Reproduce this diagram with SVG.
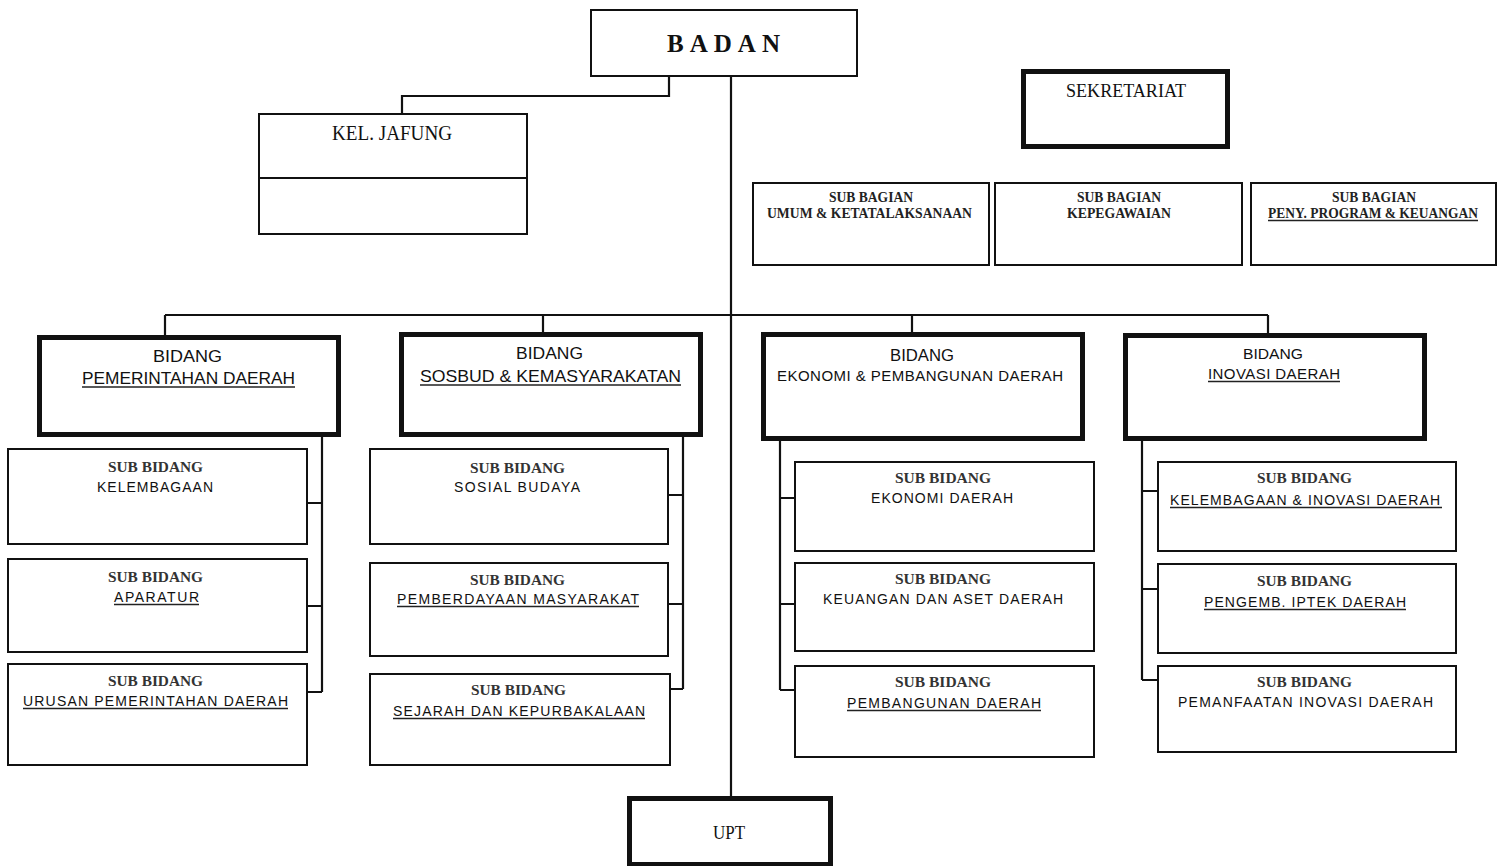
<svg xmlns="http://www.w3.org/2000/svg" width="1502" height="866" viewBox="0 0 1502 866">
<style>
.thin{fill:#fff;stroke:#111;stroke-width:2}
.thick{fill:#fff;stroke:#111;stroke-width:5}
.ln{fill:none;stroke:#111;stroke-width:2.2}
.ul{stroke:#222;stroke-width:1.3}
.sf{font-family:"Liberation Serif","Times New Roman",serif;fill:#111}
.ss{font-family:"Liberation Sans",Arial,sans-serif;fill:#111}
.sb{font-family:"Liberation Serif","Times New Roman",serif;font-size:15px;font-weight:bold;fill:#333}
.sl{font-family:"Liberation Sans",Arial,sans-serif;font-size:14px;fill:#111}
.hd{font-family:"Liberation Sans",Arial,sans-serif;font-size:17px;fill:#111}
.sg{font-family:"Liberation Serif","Times New Roman",serif;font-size:14px;font-weight:bold;fill:#222}
</style>
<rect width="1502" height="866" fill="#fff"/>
<g id="connectors">
<path class="ln" d="M669,77 V96 H402 V113"/>
<path class="ln" d="M731,77 V797"/>
<path class="ln" d="M165,315 H1268 M165,315 V336 M543,315 V333 M912,315 V333 M1268,315 V334"/>
<path class="ln" d="M322,437 V692 M307,503 H322 M307,606 H322 M307,692 H322"/>
<path class="ln" d="M683,437 V689 M668,495 H683 M668,604 H683 M669,689 H683"/>
<path class="ln" d="M780,440 V690 M780,498 H795 M780,604 H795 M780,690 H795"/>
<path class="ln" d="M1142,440 V680 M1142,491 H1158 M1142,589 H1158 M1142,680 H1158"/>
</g>
<g id="badan">
<rect class="thin" x="591" y="10" width="266" height="66"/>
<text class="sf" x="667" y="52" font-size="25" font-weight="bold" textLength="113" lengthAdjust="spacing">BADAN</text>
</g>
<g id="kel-jafung">
<rect class="thin" x="259" y="114" width="268" height="120"/>
<line class="ln" x1="259" y1="178" x2="527" y2="178"/>
<text class="sf" x="332" y="140" font-size="20" textLength="120" lengthAdjust="spacingAndGlyphs">KEL. JAFUNG</text>
</g>
<g id="sekretariat">
<rect class="thick" x="1023.5" y="71.5" width="204" height="75"/>
<text class="sf" x="1066" y="97" font-size="18" textLength="120" lengthAdjust="spacingAndGlyphs">SEKRETARIAT</text>
</g>
<g id="subbag-umum">
<rect class="thin" x="753" y="183" width="236" height="82"/>
<text class="sg" x="829" y="202" textLength="84" lengthAdjust="spacingAndGlyphs">SUB BAGIAN</text>
<text class="sg" x="767" y="218" textLength="205" lengthAdjust="spacingAndGlyphs">UMUM &amp; KETATALAKSANAAN</text>
</g>
<g id="subbag-kepegawaian">
<rect class="thin" x="995" y="183" width="247" height="82"/>
<text class="sg" x="1077" y="202" textLength="84" lengthAdjust="spacingAndGlyphs">SUB BAGIAN</text>
<text class="sg" x="1067" y="218" textLength="104" lengthAdjust="spacingAndGlyphs">KEPEGAWAIAN</text>
</g>
<g id="subbag-program">
<rect class="thin" x="1251" y="183" width="245" height="82"/>
<text class="sg" x="1332" y="202" textLength="84" lengthAdjust="spacingAndGlyphs">SUB BAGIAN</text>
<text class="sg" x="1268" y="218" textLength="210" lengthAdjust="spacingAndGlyphs">PENY. PROGRAM &amp; KEUANGAN</text>
<line class="ul" x1="1268" y1="220.5" x2="1478" y2="220.5"/>
</g>
<g id="bidang-pemerintahan">
<rect class="thick" x="39.5" y="337.5" width="299" height="97"/>
<text class="hd" x="153" y="362" textLength="69" lengthAdjust="spacingAndGlyphs">BIDANG</text>
<text class="hd" x="82" y="384" textLength="213" lengthAdjust="spacingAndGlyphs">PEMERINTAHAN DAERAH</text>
<line class="ul" x1="82" y1="387" x2="295" y2="387"/>
</g>
<g id="bidang-sosbud">
<rect class="thick" x="401.5" y="334.5" width="299" height="100"/>
<text class="hd" x="516" y="359" textLength="67" lengthAdjust="spacingAndGlyphs">BIDANG</text>
<text class="hd" x="420" y="382" font-size="18" textLength="261" lengthAdjust="spacingAndGlyphs">SOSBUD &amp; KEMASYARAKATAN</text>
<line class="ul" x1="420" y1="385" x2="681" y2="385"/>
</g>
<g id="bidang-ekonomi">
<rect class="thick" x="763.5" y="334.5" width="319" height="104"/>
<text class="hd" x="890" y="361" textLength="64" lengthAdjust="spacingAndGlyphs">BIDANG</text>
<text class="ss" x="777" y="381" font-size="15" textLength="286" lengthAdjust="spacing">EKONOMI &amp; PEMBANGUNAN DAERAH</text>
</g>
<g id="bidang-inovasi">
<rect class="thick" x="1125.5" y="335.5" width="299" height="103"/>
<text class="ss" x="1243" y="359" font-size="15.5" textLength="60" lengthAdjust="spacingAndGlyphs">BIDANG</text>
<text class="ss" x="1208" y="379" font-size="15" textLength="132" lengthAdjust="spacing">INOVASI DAERAH</text>
<line class="ul" x1="1208" y1="381.5" x2="1340" y2="381.5"/>
</g>
<g id="sb-kelembagaan">
<rect class="thin" x="8" y="449" width="299" height="95"/>
<text class="sb" x="108" y="472" textLength="95" lengthAdjust="spacingAndGlyphs">SUB BIDANG</text>
<text class="sl" x="97" y="492" textLength="116" lengthAdjust="spacing">KELEMBAGAAN</text>
</g>
<g id="sb-aparatur">
<rect class="thin" x="8" y="559" width="299" height="93"/>
<text class="sb" x="108" y="582" textLength="95" lengthAdjust="spacingAndGlyphs">SUB BIDANG</text>
<text class="sl" x="114" y="602" textLength="85" lengthAdjust="spacing">APARATUR</text>
<line class="ul" x1="114" y1="604.5" x2="199" y2="604.5"/>
</g>
<g id="sb-urusan">
<rect class="thin" x="8" y="664" width="299" height="101"/>
<text class="sb" x="108" y="686" textLength="95" lengthAdjust="spacingAndGlyphs">SUB BIDANG</text>
<text class="sl" x="23" y="706" textLength="265" lengthAdjust="spacing">URUSAN PEMERINTAHAN DAERAH</text>
<line class="ul" x1="23" y1="708.5" x2="288" y2="708.5"/>
</g>
<g id="sb-sosial">
<rect class="thin" x="370" y="449" width="298" height="95"/>
<text class="sb" x="470" y="473" textLength="95" lengthAdjust="spacingAndGlyphs">SUB BIDANG</text>
<text class="sl" x="454" y="492" textLength="126" lengthAdjust="spacing">SOSIAL BUDAYA</text>
</g>
<g id="sb-pemberdayaan">
<rect class="thin" x="370" y="563" width="298" height="93"/>
<text class="sb" x="470" y="585" textLength="95" lengthAdjust="spacingAndGlyphs">SUB BIDANG</text>
<text class="sl" x="397" y="604" textLength="242" lengthAdjust="spacing">PEMBERDAYAAN MASYARAKAT</text>
<line class="ul" x1="397" y1="606.5" x2="639" y2="606.5"/>
</g>
<g id="sb-sejarah">
<rect class="thin" x="370" y="674" width="300" height="91"/>
<text class="sb" x="471" y="695" textLength="95" lengthAdjust="spacingAndGlyphs">SUB BIDANG</text>
<text class="sl" x="393" y="716" textLength="252" lengthAdjust="spacing">SEJARAH DAN KEPURBAKALAAN</text>
<line class="ul" x1="393" y1="718.5" x2="645" y2="718.5"/>
</g>
<g id="sb-ekonomi">
<rect class="thin" x="795" y="462" width="299" height="89"/>
<text class="sb" x="895" y="483" textLength="96" lengthAdjust="spacingAndGlyphs">SUB BIDANG</text>
<text class="sl" x="871" y="503" textLength="142" lengthAdjust="spacing">EKONOMI DAERAH</text>
</g>
<g id="sb-keuangan">
<rect class="thin" x="795" y="563" width="299" height="88"/>
<text class="sb" x="895" y="584" textLength="96" lengthAdjust="spacingAndGlyphs">SUB BIDANG</text>
<text class="sl" x="823" y="604" textLength="240" lengthAdjust="spacing">KEUANGAN DAN ASET DAERAH</text>
</g>
<g id="sb-pembangunan">
<rect class="thin" x="795" y="666" width="299" height="91"/>
<text class="sb" x="895" y="687" textLength="96" lengthAdjust="spacingAndGlyphs">SUB BIDANG</text>
<text class="sl" x="847" y="708" textLength="194" lengthAdjust="spacing">PEMBANGUNAN DAERAH</text>
<line class="ul" x1="847" y1="710.5" x2="1041" y2="710.5"/>
</g>
<g id="sb-kelembagaan-inovasi">
<rect class="thin" x="1158" y="462" width="298" height="89"/>
<text class="sb" x="1257" y="483" textLength="95" lengthAdjust="spacingAndGlyphs">SUB BIDANG</text>
<text class="sl" x="1170" y="505" textLength="270" lengthAdjust="spacing">KELEMBAGAAN &amp; INOVASI DAERAH</text>
<line class="ul" x1="1170" y1="507.5" x2="1442" y2="507.5"/>
</g>
<g id="sb-iptek">
<rect class="thin" x="1158" y="564" width="298" height="89"/>
<text class="sb" x="1257" y="586" textLength="95" lengthAdjust="spacingAndGlyphs">SUB BIDANG</text>
<text class="sl" x="1204" y="607" textLength="202" lengthAdjust="spacing">PENGEMB. IPTEK DAERAH</text>
<line class="ul" x1="1204" y1="609.5" x2="1406" y2="609.5"/>
</g>
<g id="sb-pemanfaatan">
<rect class="thin" x="1158" y="666" width="298" height="86"/>
<text class="sb" x="1257" y="687" textLength="95" lengthAdjust="spacingAndGlyphs">SUB BIDANG</text>
<text class="sl" x="1178" y="707" textLength="255" lengthAdjust="spacing">PEMANFAATAN INOVASI DAERAH</text>
</g>
<g id="upt">
<rect class="thick" x="629.5" y="798.5" width="201" height="66"/>
<text class="sf" x="713" y="839" font-size="19" textLength="32" lengthAdjust="spacingAndGlyphs">UPT</text>
</g>
</svg>
